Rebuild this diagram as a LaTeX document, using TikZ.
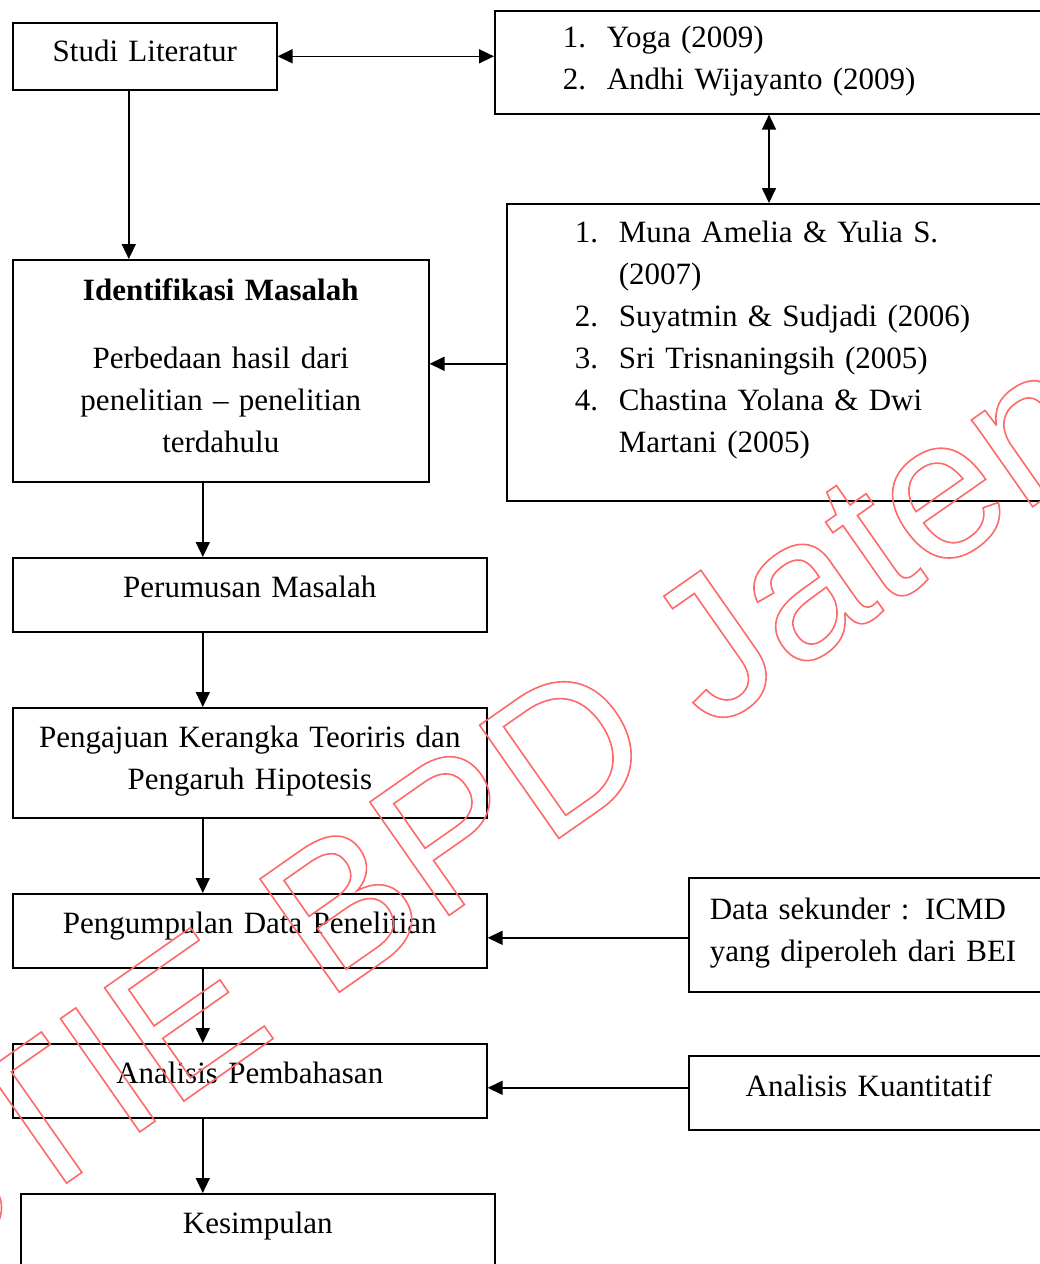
\documentclass[tikz,border=0pt]{standalone}
\usepackage{fontspec}
\setmainfont{Liberation Serif}
\newfontfamily\wmfont{Liberation Sans}
\usetikzlibrary{arrows.meta, positioning}
\definecolor{wmred}{RGB}{255,105,105}
\newcommand{\numit}[2]{\hspace*{68pt}\makebox[44pt][l]{#1}#2}
\newcommand{\contit}[1]{\hspace*{112pt}#1}
\newcommand{\hollow}[1]{\special{pdf:literal direct 1 Tr 1.6 w}#1\special{pdf:literal direct 0 Tr}}
\begin{document}
\begin{tikzpicture}[x=1pt, y=-1pt,
    block/.style={draw, rectangle, line width=1.6pt, anchor=north west, inner sep=0pt, align=center, font=\fontsize{31}{42}\selectfont},
    list/.style={block, align=left},
    arrow/.style={-{Triangle[length=15pt, width=14pt]}, line width=1.6pt},
    both/.style={{Triangle[length=15pt, width=14pt]}-{Triangle[length=15pt, width=14pt]}, line width=1.6pt},
    wmark/.style={inner sep=0pt, text=wmred, font=\wmfont\fontsize{201}{201}\selectfont}
]
\useasboundingbox (0,0) rectangle (1040,1264);
% 1. Top row
\node[block, text width=264pt, text height=39pt, text depth=28pt] (stud) at (12,22) {Studi Literatur};
\node[list, text width=556pt, text height=37pt, text depth=66pt] (yoga) at (494,10) {\numit{1.}{Yoga (2009)}\\ \numit{2.}{Andhi Wijayanto (2009)}};
% 2. Earlier studies
\node[list, text width=544pt, text height=39pt, text depth=258pt] (muna) at (506,203) {\numit{1.}{Muna Amelia \& Yulia S.}\\ \contit{(2007)}\\ \numit{2.}{Suyatmin \& Sudjadi (2006)}\\ \numit{3.}{Sri Trisnaningsih (2005)}\\ \numit{4.}{Chastina Yolana \& Dwi}\\ \contit{Martani (2005)}};
\node[block, text width=416pt, text height=41pt, text depth=181pt] (iden) at (12,259) {\textbf{Identifikasi Masalah}\\[26pt] Perbedaan hasil dari\\ penelitian – penelitian\\ terdahulu};
% 3. Main column
\node[block, text width=474pt, text height=40pt, text depth=34pt] (rumu) at (12,557) {Perumusan Masalah};
\node[block, text width=474pt, text height=40pt, text depth=70pt] (ajuk) at (12,707) {Pengajuan Kerangka Teoriris dan\\ Pengaruh Hipotesis};
\node[block, text width=474pt, text height=40pt, text depth=34pt] (kump) at (12,893) {Pengumpulan Data Penelitian};
\node[block, text width=474pt, text height=40pt, text depth=34pt] (anal) at (12,1043) {Analisis Pembahasan};
\node[block, text width=474pt, text height=40pt, text depth=40pt] (kesi) at (20,1193) {Kesimpulan};
% 4. Inputs on the right
\node[list, text width=362pt, text height=42pt, text depth=72pt] (data) at (688,877) {\hspace*{21pt}Data sekunder : ICMD\\ \hspace*{21pt}yang diperoleh dari BEI};
\node[block, text width=360pt, text height=41pt, text depth=33pt] (kuan) at (688,1055) {Analisis Kuantitatif};
% --- Arrows ---
\draw[both] (stud.east) -- (stud.east -| yoga.west);
\draw[both] ([xshift=263pt]muna.north west) -- ([xshift=263pt]muna.north west |- yoga.south);
\draw[arrow] ([xshift=-16pt]stud.south) -- ([xshift=-16pt]stud.south |- iden.north);
\draw[arrow] ([yshift=7pt]iden.east -| muna.west) -- ([yshift=7pt]iden.east);
\draw[arrow] ([xshift=-18pt]iden.south) -- ([xshift=-18pt]iden.south |- rumu.north);
\draw[arrow] ([xshift=-47pt]rumu.south) -- ([xshift=-47pt]rumu.south |- ajuk.north);
\draw[arrow] ([xshift=-47pt]ajuk.south) -- ([xshift=-47pt]ajuk.south |- kump.north);
\draw[arrow] ([xshift=-47pt]kump.south) -- ([xshift=-47pt]kump.south |- anal.north);
\draw[arrow] ([xshift=-47pt]anal.south) -- ([xshift=-47pt]anal.south |- kesi.north);
\draw[arrow] ([yshift=-3pt]data.west) -- ([yshift=-3pt]data.west -| kump.east);
\draw[arrow] ([yshift=5pt]kuan.west) -- ([yshift=5pt]kuan.west -| anal.east);
% watermark
\node[wmark, rotate=35, anchor=base west] (wmrk) at (-86,1290) {\hollow{STIE BPD Jateng}};
\end{tikzpicture}
\end{document}
